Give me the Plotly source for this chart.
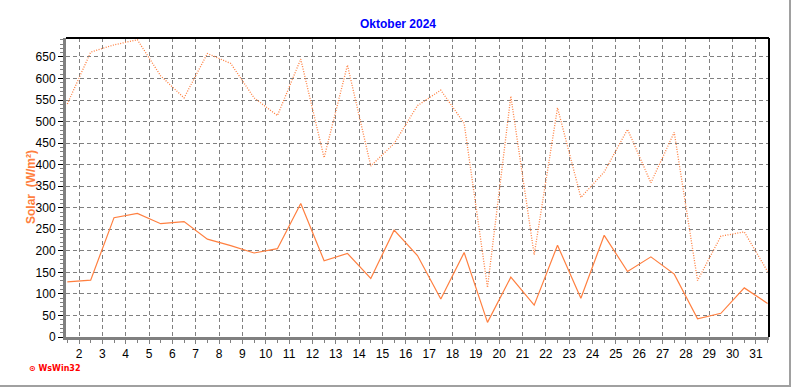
import plotly.graph_objects as go

# Data: day positions (noon of each day) and values
days = [d + 0.5 for d in range(1, 32)]
solar_mean = [128, 132, 277, 287, 263, 268, 227, 212, 195, 205, 310, 177, 194, 136, 248,
              189, 88, 196, 34, 139, 74, 213, 90, 236, 152, 186, 146, 42, 55, 114, 78]
solar_max = [541, 661, 678, 690, 606, 555, 658, 635, 555, 514, 645, 416, 631, 397, 449,
             537, 573, 496, 115, 559, 191, 532, 324, 383, 482, 358, 475, 131, 234, 244, 152]
tick_days = list(range(2, 32))
tick_labels = [str(d) for d in tick_days]

ORANGE = "#FF7F3F"
W, H = 792, 387
# page-pixel positions of the plot area
PL, PR, PT, PB = 66, 769, 38, 337

fig = go.Figure()
fig.add_trace(go.Scatter(x=days, y=solar_max, mode="lines",
                         line=dict(color=ORANGE, width=1.3, dash="1px,1.5px"), hoverinfo="skip"))
fig.add_trace(go.Scatter(x=days, y=solar_mean, mode="lines",
                         line=dict(color=ORANGE, width=1.2), hoverinfo="skip"))

def px(x):  # page x -> paper
    return (x - PL) / (PR - PL)

def py(y):  # page y -> paper
    return (PB - y) / (PB - PT)

fig.update_layout(
    width=W, height=H,
    margin=dict(l=PL, r=W - PR, t=PT, b=H - PB, pad=0),
    paper_bgcolor="white", plot_bgcolor="white",
    showlegend=False,
    font=dict(family="Liberation Sans, Arial, sans-serif", size=12, color="black"),
    xaxis=dict(
        range=[1.443, 31.56], tickmode="array", tickvals=tick_days, ticktext=tick_labels,
        showgrid=True, gridcolor="#808080", griddash="4px,3px", gridwidth=1,
        showline=True, linecolor="#808080", linewidth=3,
        ticks="outside", ticklen=4, tickcolor="#808080", tickwidth=1,
        minor=dict(dtick=0.5, tick0=0, ticks="outside", ticklen=3, tickcolor="#808080", showgrid=False),
        zeroline=False, fixedrange=True,
    ),
    yaxis=dict(
        range=[0, 694], dtick=50, tick0=0,
        showgrid=True, gridcolor="#808080", griddash="4px,3px", gridwidth=1,
        showline=True, linecolor="#808080", linewidth=3,
        ticks="outside", ticklen=5, tickcolor="black", tickwidth=1,
        minor=dict(dtick=10, ticks="outside", ticklen=3, tickcolor="#808080", showgrid=False),
        zeroline=False, fixedrange=True,
    ),
    annotations=[
        dict(text="<b>Oktober 2024</b>", xref="paper", yref="paper", x=px(398), y=py(24),
             showarrow=False, font=dict(color="#0000FF", size=12,
                                        family="Liberation Sans, Arial, sans-serif"),
             xanchor="center", yanchor="middle"),
        dict(text="<b>Solar  (W/m²)</b>", xref="paper", yref="paper", x=px(31), y=py(187),
             showarrow=False, textangle=-90, font=dict(color=ORANGE, size=12,
                                                       family="Liberation Sans, Arial, sans-serif"),
             xanchor="center", yanchor="middle"),
        dict(text="<b>⊙ WsWin32</b>", xref="paper", yref="paper", x=px(27), y=py(368),
             showarrow=False, font=dict(color="#FF0000", size=8,
                                        family="DejaVu Sans, sans-serif"),
             xanchor="left", yanchor="middle"),
    ],
    shapes=[
        # black top and right border of plot area
        dict(type="line", xref="paper", yref="paper", x0=0, x1=1, y0=1, y1=1,
             line=dict(color="black", width=2), layer="above"),
        dict(type="line", xref="paper", yref="paper", x0=1, x1=1, y0=0, y1=1,
             line=dict(color="black", width=2), layer="above"),
        # outer window frame (right and bottom)
        dict(type="line", xref="paper", yref="paper", x0=px(790), x1=px(790), y0=py(387), y1=py(0),
             line=dict(color="#A0A0A0", width=2), layer="above"),
        dict(type="line", xref="paper", yref="paper", x0=px(0), x1=px(791), y0=py(386), y1=py(386),
             line=dict(color="#A0A0A0", width=2), layer="above"),
    ],
)

fig.write_html("out.html", config={"displayModeBar": False, "staticPlot": True},
               post_script="document.body.style.margin='0';document.body.style.overflow='hidden';")
